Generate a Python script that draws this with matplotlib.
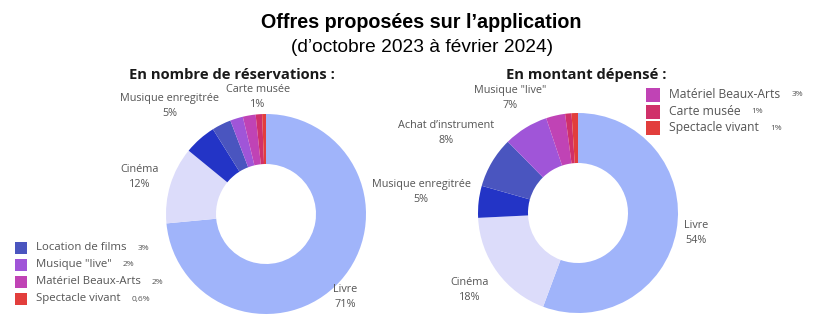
import matplotlib.pyplot as plt

# data
res_labels = ["Livre", "Cinéma", "Musique enregitrée", "Location de films",
              "Musique \"live\"", "Matériel Beaux-Arts", "Carte musée", "Spectacle vivant"]
res_values = [71, 12, 5, 3, 2, 2, 1, 0.6]
res_pct = ["71%", "12%", "5%", "3%", "2%", "2%", "1%", "0,6%"]

dep_labels = ["Livre", "Cinéma", "Musique enregitrée", "Achat d\u2019instrument",
              "Musique \"live\"", "Matériel Beaux-Arts", "Carte musée", "Spectacle vivant"]
dep_values = [54, 18, 5, 8, 7, 3, 1, 1]
dep_pct = ["54%", "18%", "5%", "8%", "7%", "3%", "1%", "1%"]

colors = ["#a0b4fa", "#dcdcfa", "#2334c6", "#4a55bf", "#a055d8",
          "#c043b5", "#d0306a", "#e23e3c"]

W, H = 819, 333
fig = plt.figure(figsize=(W / 100, H / 100), dpi=100)
ax = fig.add_axes([0, 0, 1, 1])

LABEL_FONT = "Open Sans"
GREY = "#555555"


def py(y):
    # pixel row (from top) -> data y
    return H - y


def donut(values, center):
    ax.pie(values, colors=colors, startangle=90, counterclock=False,
           radius=100, center=center,
           wedgeprops=dict(width=50, linewidth=0))


donut(res_values, (266, py(214)))
donut(dep_values, (578, py(213)))

ax.set_xlim(0, W)
ax.set_ylim(0, H)
ax.set_aspect("equal")
ax.axis("off")

# titles
ax.text(421, py(22), "Offres proposées sur l\u2019application", ha="center", va="center",
        fontsize=14.2, fontweight="bold", family="Liberation Sans", color="black")
ax.text(422, py(47), "(d\u2019octobre 2023 à février 2024)", ha="center", va="center",
        fontsize=13.8, family="Liberation Sans", color="black")
ax.text(232, py(75), "En nombre de réservations :", ha="center", va="center",
        fontsize=10.6, fontweight="bold", family=LABEL_FONT, color="#1a1a1a")
ax.text(586, py(75), "En montant dépensé :", ha="center", va="center",
        fontsize=10.6, fontweight="bold", family=LABEL_FONT, color="#1a1a1a")


def slice_label(x, y, idx, labels, pct):
    ax.text(x, py(y), labels[idx] + "\n" + pct[idx], ha="center", va="center",
            fontsize=7.8, family=LABEL_FONT, color=GREY, linespacing=1.6)


# left donut labels
slice_label(170, 106, 2, res_labels, res_pct)
slice_label(258, 97, 6, res_labels, res_pct)
slice_label(140, 177, 1, res_labels, res_pct)
slice_label(345, 297, 0, res_labels, res_pct)

# right donut labels
slice_label(510, 98, 4, dep_labels, dep_pct)
slice_label(446, 133, 3, dep_labels, dep_pct)
slice_label(421, 192, 2, dep_labels, dep_pct)
slice_label(470, 290, 1, dep_labels, dep_pct)
slice_label(696, 233, 0, dep_labels, dep_pct)


def legend_rows(x, y0, step, size, fs, idxs, labels, pct):
    for k, i in enumerate(idxs):
        y = py(y0 + k * step)
        ax.add_patch(plt.Rectangle((x, y - size / 2), size, size, color=colors[i], lw=0))
        t = ax.text(x + size + 9, y, labels[i], ha="left", va="center",
                    fontsize=fs, family=LABEL_FONT, color=GREY)
        ax.annotate(pct[i], xy=(1, 0.5), xycoords=t, xytext=(8, 0),
                    textcoords="offset points", ha="left", va="center",
                    fontsize=6, family=LABEL_FONT, color=GREY)


legend_rows(15, 248, 17, 12, 8.2, [3, 4, 5, 7], res_labels, res_pct)
legend_rows(646, 95, 16.5, 14, 8.7, [5, 6, 7], dep_labels, dep_pct)

fig.savefig("out.png", dpi=100, facecolor="white")
